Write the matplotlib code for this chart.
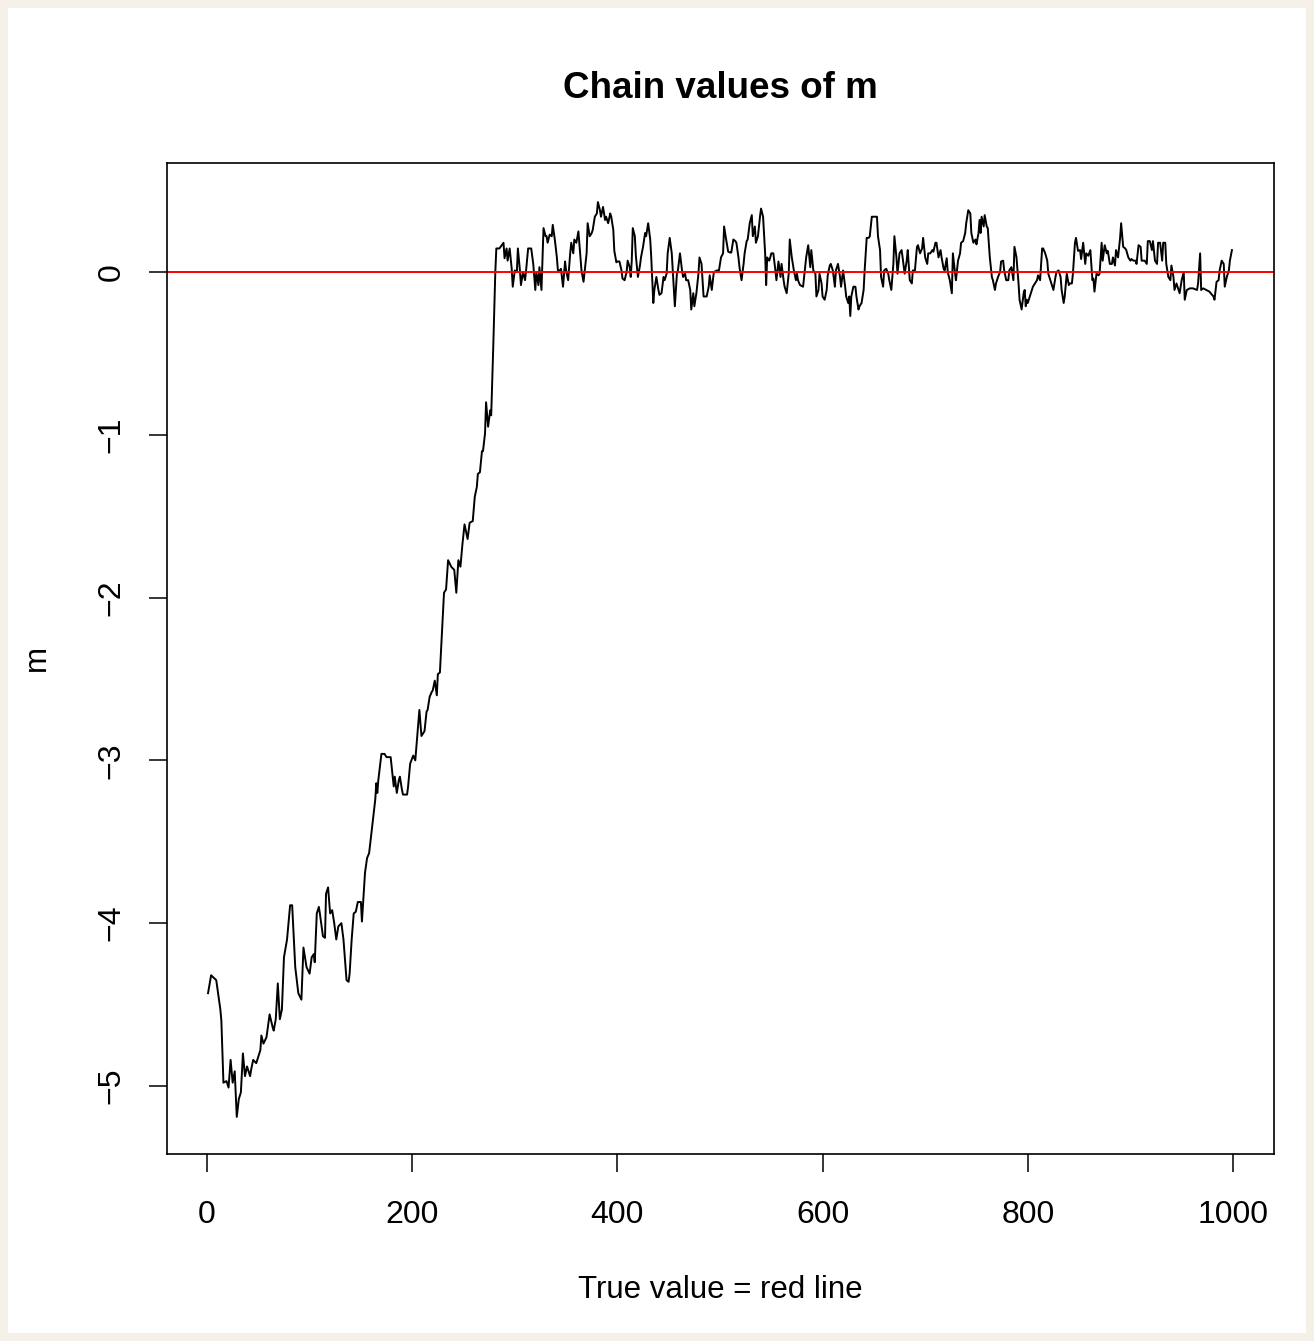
import numpy as np
import matplotlib as mpl
import matplotlib.pyplot as plt
from matplotlib.patches import Rectangle

# chain trace of m (iteration, value)
iters = [1, 4, 9, 13, 14, 16, 19, 21, 23, 25, 27, 29, 31, 33, 35, 37, 39, 42, 43, 45,
         48, 52, 53, 55, 58, 61, 64, 65, 67, 69, 71, 73, 75, 78, 81, 83, 86, 89, 92, 94,
         97, 100, 102, 104, 105, 107, 109, 110, 113, 115, 116, 118, 120, 122, 124, 126, 128, 131, 133, 136,
         138, 139, 141, 143, 145, 147, 150, 151, 154, 156, 158, 160, 164, 165, 166, 167, 170, 173, 175, 179,
         182, 183, 185, 187, 188, 190, 191, 195, 196, 198, 201, 203, 207, 209, 212, 214, 215, 217, 219, 220,
         222, 224, 225, 227, 229, 231, 233, 235, 238, 241, 243, 245, 247, 249, 251, 254, 256, 259, 261, 263,
         264, 266, 268, 269, 271, 272, 274, 276, 277, 279, 281, 282, 285, 289, 290, 292, 293, 295, 297, 298,
         300, 302, 303, 305, 306, 308, 310, 311, 313, 316, 318, 320, 321, 323, 324, 326, 328, 330, 331, 332,
         334, 336, 337, 339, 341, 342, 344, 345, 347, 349, 350, 352, 354, 355, 357, 358, 360, 362, 364, 365,
         367, 368, 370, 371, 373, 375, 376, 378, 380, 381, 383, 384, 386, 388, 389, 391, 393, 394, 396, 397,
         399, 400, 402, 404, 405, 407, 409, 410, 412, 413, 414, 415, 417, 418, 420, 422, 423, 425, 427, 428,
         430, 432, 433, 435, 436, 438, 440, 441, 443, 445, 446, 448, 449, 451, 453, 454, 456, 458, 459, 461,
         463, 464, 466, 467, 469, 471, 472, 474, 475, 477, 479, 480, 482, 484, 487, 489, 490, 492, 494, 497,
         499, 501, 503, 504, 506, 508, 510, 511, 513, 515, 516, 518, 519, 521, 523, 524, 526, 527, 529, 531,
         532, 534, 535, 537, 539, 540, 542, 544, 545, 546, 548, 549, 550, 552, 554, 555, 557, 559, 560, 562,
         563, 565, 567, 568, 570, 572, 574, 575, 576, 578, 581, 583, 584, 586, 588, 589, 591, 593, 594, 596,
         597, 599, 600, 602, 604, 605, 607, 608, 610, 612, 613, 615, 617, 618, 620, 622, 623, 625, 626, 627,
         628, 630, 632, 633, 635, 636, 638, 640, 641, 643, 645, 646, 648, 650, 651, 653, 654, 656, 657, 659,
         660, 662, 664, 665, 667, 669, 670, 672, 673, 675, 677, 678, 680, 682, 683, 685, 687, 688, 690, 692,
         693, 695, 697, 698, 700, 702, 703, 705, 707, 708, 710, 711, 713, 715, 716, 718, 719, 721, 722, 724,
         726, 727, 729, 730, 732, 734, 735, 737, 739, 740, 742, 744, 745, 747, 749, 750, 752, 753, 754, 755,
         757, 758, 760, 761, 763, 765, 766, 768, 769, 771, 773, 774, 776, 777, 779, 781, 782, 784, 786, 787,
         789, 791, 792, 794, 796, 797, 798, 799, 800, 802, 804, 805, 807, 809, 810, 812, 814, 815, 817, 819,
         820, 822, 825, 827, 828, 830, 832, 833, 835, 836, 838, 840, 841, 843, 844, 846, 847, 849, 851, 852,
         854, 856, 857, 859, 861, 863, 864, 865, 867, 869, 870, 872, 873, 875, 877, 878, 880, 882, 883, 885,
         886, 888, 890, 891, 893, 895, 896, 898, 900, 901, 903, 905, 906, 908, 910, 911, 913, 914, 916, 917,
         919, 921, 922, 924, 926, 927, 929, 931, 932, 934, 935, 937, 939, 940, 942, 943, 945, 947, 948, 950,
         952, 953, 955, 958, 961, 965, 966, 968, 969, 971, 974, 977, 981, 982, 984, 986, 987, 989, 991, 992,
         994, 996, 997, 999]
m_vals = [-4.43, -4.32, -4.35, -4.53, -4.60, -4.98, -4.97, -5.01, -4.84, -4.98, -4.91, -5.19, -5.08, -5.04, -4.80, -4.94, -4.88, -4.94, -4.90, -4.84,
          -4.86, -4.78, -4.69, -4.74, -4.70, -4.56, -4.64, -4.66, -4.59, -4.37, -4.59, -4.53, -4.21, -4.10, -3.89, -3.89, -4.27, -4.43, -4.47, -4.15,
          -4.27, -4.31, -4.21, -4.19, -4.24, -3.94, -3.90, -3.94, -4.08, -4.09, -3.82, -3.78, -3.94, -3.92, -4.00, -4.10, -4.02, -4.00, -4.10, -4.35,
          -4.36, -4.31, -4.10, -3.94, -3.93, -3.87, -3.87, -3.99, -3.69, -3.60, -3.57, -3.46, -3.24, -3.14, -3.20, -3.12, -2.96, -2.96, -2.98, -2.98,
          -3.16, -3.10, -3.20, -3.12, -3.10, -3.18, -3.21, -3.21, -3.16, -3.02, -2.97, -3.00, -2.69, -2.85, -2.82, -2.70, -2.69, -2.61, -2.58, -2.57,
          -2.51, -2.60, -2.47, -2.46, -2.22, -1.97, -1.95, -1.77, -1.81, -1.83, -1.97, -1.77, -1.81, -1.67, -1.55, -1.64, -1.54, -1.53, -1.38, -1.32,
          -1.24, -1.23, -1.10, -1.10, -0.99, -0.80, -0.95, -0.85, -0.88, -0.46, 0.0, 0.145, 0.145, 0.18, 0.085, 0.145, 0.07, 0.145, 0.02, -0.09,
          0.01, 0.0, 0.145, 0.01, -0.08, 0.0, -0.05, 0.01, 0.145, 0.145, 0.05, -0.11, 0.0, -0.08, 0.03, -0.11, 0.27, 0.22, 0.22, 0.18,
          0.23, 0.22, 0.29, 0.20, 0.09, 0.01, 0.01, 0.02, -0.09, 0.065, 0.01, -0.05, 0.115, 0.18, 0.115, 0.20, 0.18, 0.25, 0.09, 0.01,
          -0.06, 0.0, 0.115, 0.30, 0.22, 0.24, 0.26, 0.34, 0.36, 0.43, 0.38, 0.34, 0.40, 0.32, 0.34, 0.30, 0.36, 0.34, 0.26, 0.13,
          0.06, 0.065, 0.065, 0.01, -0.04, -0.05, 0.0, 0.07, 0.03, -0.03, 0.07, 0.27, 0.22, 0.10, -0.03, 0.04, 0.09, 0.155, 0.24, 0.22,
          0.30, 0.20, 0.09, -0.19, -0.11, -0.03, -0.11, -0.14, -0.13, -0.03, -0.05, -0.01, 0.115, 0.21, 0.115, 0.01, -0.21, -0.01, 0.01, 0.115,
          0.01, -0.03, -0.01, -0.05, -0.05, -0.11, -0.23, -0.13, -0.21, -0.13, -0.01, 0.09, 0.05, -0.15, -0.15, -0.09, -0.02, -0.11, 0.0, 0.01,
          0.01, 0.09, 0.115, 0.28, 0.20, 0.125, 0.12, 0.12, 0.20, 0.19, 0.18, 0.09, 0.03, -0.05, 0.05, 0.115, 0.19, 0.20, 0.30, 0.35,
          0.22, 0.28, 0.18, 0.22, 0.34, 0.39, 0.34, 0.115, -0.08, 0.09, 0.07, 0.09, 0.115, 0.115, 0.01, -0.05, 0.065, -0.03, 0.05, -0.05,
          -0.09, -0.13, -0.01, 0.20, 0.09, 0.01, -0.05, -0.01, -0.05, -0.08, -0.09, 0.03, 0.09, 0.165, 0.03, 0.135, 0.01, -0.01, -0.15, -0.11,
          -0.01, -0.07, -0.15, -0.17, -0.11, -0.02, 0.04, 0.05, 0.01, -0.09, 0.01, 0.05, -0.03, -0.09, 0.01, -0.09, -0.15, -0.19, -0.15, -0.27,
          -0.15, -0.09, -0.09, -0.15, -0.23, -0.21, -0.19, -0.11, 0.01, 0.21, 0.21, 0.22, 0.34, 0.34, 0.34, 0.34, 0.22, 0.135, -0.03, -0.09,
          0.01, 0.02, -0.01, -0.05, -0.11, 0.05, 0.22, 0.09, -0.01, 0.115, 0.135, 0.09, -0.01, 0.07, 0.135, -0.05, -0.07, 0.01, 0.01, 0.155,
          0.165, 0.115, 0.145, 0.21, 0.09, 0.05, 0.115, 0.115, 0.135, 0.125, 0.18, 0.18, 0.09, 0.135, 0.09, 0.02, 0.01, 0.085, 0.0, -0.05,
          -0.13, 0.115, 0.0, -0.05, 0.07, 0.115, 0.18, 0.19, 0.24, 0.30, 0.38, 0.36, 0.24, 0.18, 0.20, 0.17, 0.24, 0.32, 0.24, 0.34,
          0.28, 0.35, 0.28, 0.27, 0.09, -0.03, -0.05, -0.11, -0.07, -0.03, 0.0, 0.065, 0.07, 0.01, -0.05, -0.05, 0.01, 0.03, -0.05, 0.155,
          0.09, -0.07, -0.17, -0.23, -0.13, -0.11, -0.21, -0.17, -0.19, -0.15, -0.11, -0.09, -0.07, -0.05, -0.02, -0.05, 0.145, 0.145, 0.115, 0.07,
          -0.01, -0.05, -0.11, -0.03, 0.0, 0.01, -0.03, -0.11, -0.19, -0.15, -0.01, -0.08, -0.07, -0.07, -0.01, 0.18, 0.21, 0.13, 0.135, 0.08,
          0.18, 0.05, 0.115, 0.10, 0.135, -0.05, -0.04, -0.12, -0.01, -0.02, -0.01, 0.18, 0.07, 0.165, 0.115, 0.13, 0.05, 0.05, 0.09, 0.04,
          0.135, 0.09, 0.21, 0.30, 0.155, 0.145, 0.135, 0.09, 0.07, 0.08, 0.07, 0.07, 0.05, 0.165, 0.155, 0.07, 0.07, 0.07, 0.05, 0.19,
          0.19, 0.135, 0.19, 0.07, 0.05, 0.18, 0.18, 0.07, 0.18, 0.18, 0.05, -0.03, -0.05, 0.04, -0.03, -0.11, -0.07, -0.11, -0.13, -0.05,
          0.0, -0.17, -0.11, -0.10, -0.10, -0.11, -0.07, 0.115, -0.11, -0.10, -0.11, -0.12, -0.15, -0.17, -0.06, -0.05, 0.01, 0.07, 0.05, -0.09,
          -0.03, 0.01, 0.07, 0.135]
true_m = 0.0
xticks = [0, 200, 400, 600, 800, 1000]
yticks = [0, -1, -2, -3, -4, -5]

mpl.rcParams['font.family'] = ['Liberation Sans', 'DejaVu Sans']

W, H = 1314, 1341
fig = plt.figure(figsize=(W / 100, H / 100), dpi=100, facecolor='#f4f0e8')
# white page on cream backdrop (drawn underneath the axes)
fig.patches.append(Rectangle((8 / W, 8 / H), (W - 16) / W, (H - 16) / H,
                             transform=fig.transFigure, facecolor='white',
                             edgecolor='none', zorder=-10))

# plot box in pixel coords: left 167, right 1274, top 163, bottom 1154
ax = fig.add_axes([167 / W, (H - 1154) / H, (1274 - 167) / W, (1154 - 163) / H])
ax.set_zorder(5)
ax.set_facecolor('white')

ax.plot(iters, m_vals, color='black', lw=1.4)
ax.axhline(true_m, color='red', lw=1.4)

ax.set_xlim(-39, 1040)
ax.set_ylim(-5.418, 0.67)
ax.set_xticks(xticks)
ax.set_yticks(yticks)
ax.set_yticklabels([str(v).replace('-', '\u2212') for v in yticks], rotation=90, va='center')
ax.tick_params(axis='both', direction='out', length=13, width=1.1, labelsize=23, color='black')
ax.tick_params(axis='x', pad=20)
ax.tick_params(axis='y', pad=16)
for s in ax.spines.values():
    s.set_linewidth(1.2)

fig.text(720 / W, 1 - 88 / H, 'Chain values of m', ha='center', va='center',
         fontsize=26.5, fontweight='bold', zorder=6)
fig.text(720 / W, 1 - 1290 / H, 'True value = red line', ha='center', va='center', fontsize=22.5, zorder=6)
fig.text(37 / W, 1 - 658 / H, 'm', ha='center', va='center', rotation=90, fontsize=22.5, zorder=6)

fig.savefig('out.png', dpi=100, facecolor=fig.get_facecolor())
